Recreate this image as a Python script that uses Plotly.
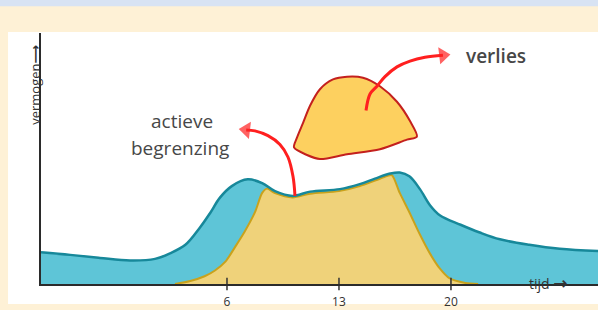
import plotly.graph_objects as go

# ---- data (time units, power units) ----
tick_vals = [6, 13, 20]
tick_text = ["6", "13", "20"]

blue_t = [-5.625, -3.8, -1.94, -0.06, 1.5, 2.44, 3.4, 4.3, 4.94, 5.56, 6.3, 7.3, 8.2, 9.0, 10.1,
          11.2, 13.06, 14.3, 15.25, 16.2, 16.8, 17.4, 18.06, 18.7, 19.3, 20.6, 21.8, 23.06, 24.9, 26.8, 29.2]
blue_y = [12.6, 11.6, 10.4, 9.4, 10.0, 12.2, 15.6, 22.4, 28.2, 34.4, 39.0, 41.7, 40.2, 37.0, 35.1,
          36.8, 37.8, 39.8, 42.0, 44.0, 44.4, 42.9, 37.8, 31.3, 27.4, 23.6, 20.5, 17.8, 15.6, 14.0, 13.1]

yellow_t = [2.75, 3.7, 4.6, 5.25, 5.9, 6.5, 7.1, 7.75, 8.2, 8.5, 9.0, 10.1, 11.2, 13.0, 14.3, 15.25,
            16.0, 16.3, 16.8, 17.4, 18.06, 18.7, 19.3, 19.9, 20.9, 21.7]
yellow_y = [0.0, 1.2, 3.1, 5.4, 8.9, 14.7, 20.8, 28.6, 36.3, 38.0, 36.2, 34.5, 36.0, 37.0, 39.0, 41.2,
            43.0, 43.4, 36.3, 28.6, 19.7, 12.0, 6.2, 2.3, 0.4, 0.0]

loss_t = [10.19, 10.375, 10.75, 11.19, 11.81, 12.625, 13.5, 14.5, 15.56, 16.625, 17.44, 17.875,
          17.25, 15.56, 13.5, 11.81, 11.0, 10.19]
loss_y = [54.4, 58.3, 64.1, 71.0, 77.6, 81.5, 82.6, 82.2, 78.8, 72.6, 64.9, 58.7,
          57.5, 53.7, 51.7, 49.8, 51.4, 54.4]

arrow_loss_t = [14.69, 14.94, 15.375, 15.875, 16.625, 17.44, 18.375, 19.5]
arrow_loss_y = [69.1, 75.7, 78.8, 82.6, 86.5, 88.8, 90.3, 91.1]

arrow_lim_t = [10.25, 10.125, 9.81, 9.31, 8.56, 7.75, 7.2]
arrow_lim_y = [35.1, 42.9, 50.6, 55.6, 59.1, 61.0, 61.4]

BLUE_FILL = "#5ec5d7"
BLUE_LINE = "#17889a"
YEL_FILL = "#efd27a"
YEL_LINE = "#c9a21c"
LOSS_FILL = "#fdd05f"
LOSS_LINE = "#c4201d"
RED = "#ff1f1f"
TXT = "#474747"
ARROW_X = '<span style="font-family:DejaVu Sans;font-size:17px;font-weight:bold">→</span>'
ARROW_Y = '<span style="font-family:DejaVu Sans"><b>⟶</b></span>'

fig = go.Figure()

fig.add_trace(go.Scatter(x=blue_t, y=blue_y, mode="lines", fill="tozeroy",
                         fillcolor=BLUE_FILL, line=dict(color="rgba(0,0,0,0)", shape="spline", smoothing=1.0),
                         hoverinfo="skip"))
fig.add_trace(go.Scatter(x=yellow_t, y=yellow_y, mode="lines", fill="tozeroy",
                         fillcolor=YEL_FILL, line=dict(color=YEL_LINE, width=2, shape="spline", smoothing=0.8),
                         hoverinfo="skip"))
fig.add_trace(go.Scatter(x=blue_t, y=blue_y, mode="lines",
                         line=dict(color=BLUE_LINE, width=2.5, shape="spline", smoothing=1.0),
                         hoverinfo="skip"))
fig.add_trace(go.Scatter(x=loss_t, y=loss_y, mode="lines", fill="toself",
                         fillcolor=LOSS_FILL, line=dict(color=LOSS_LINE, width=2, shape="spline", smoothing=0.8),
                         hoverinfo="skip"))

for tt, yy in [(arrow_loss_t, arrow_loss_y), (arrow_lim_t, arrow_lim_y)]:
    fig.add_trace(go.Scatter(x=tt, y=yy, mode="lines", line=dict(color=RED, width=3, shape="spline"),
                             hoverinfo="skip"))
    fig.add_trace(go.Scatter(x=[tt[-2], tt[-1]], y=[yy[-2], yy[-1]], mode="markers",
                             marker=dict(symbol="triangle-up", angleref="previous", size=[0, 15],
                                         color=RED, line=dict(width=0)),
                             hoverinfo="skip", cliponaxis=False))

# tick marks crossing the axis
fig.add_trace(go.Scatter(x=tick_vals, y=[0] * len(tick_vals), mode="markers",
                         marker=dict(symbol="line-ns-open", size=9, color="#333333",
                                     line=dict(color="#333333", width=1.5)),
                         hoverinfo="skip", cliponaxis=False))

fig.update_layout(
    width=598, height=310,
    margin=dict(l=41, r=0, t=33, b=19),
    paper_bgcolor="#fef1d6",
    plot_bgcolor="rgba(0,0,0,0)",
    showlegend=False,
    font=dict(family="Open Sans", color=TXT),
    xaxis=dict(range=[-5.625, 29.19], showgrid=False, zeroline=False, showline=True,
               linecolor="#2b2b2b", linewidth=2, tickmode="array", tickvals=tick_vals,
               ticktext=tick_text, ticks="", ticklabelstandoff=6,
               tickfont=dict(size=12, color="#333333"), fixedrange=True),
    yaxis=dict(range=[0, 100], showgrid=False, zeroline=False, showline=True,
               linecolor="#2b2b2b", linewidth=2, showticklabels=False, ticks="", fixedrange=True),
    shapes=[
        dict(type="rect", xref="paper", yref="paper", x0=-0.0592, x1=1.01, y0=-0.08, y1=1.004,
             fillcolor="white", line=dict(width=0), layer="below"),
        dict(type="rect", xref="paper", yref="paper", x0=-0.08, x1=1.01, y0=1.107, y1=1.2,
             fillcolor="#d8e3f3", line=dict(width=0), layer="below"),
    ],
    annotations=[
        dict(text="actieve", x=3.19, y=65.0, xref="x", yref="y", showarrow=False,
             font=dict(size=19, color=TXT)),
        dict(text="begrenzing", x=3.06, y=54.3, xref="x", yref="y", showarrow=False,
             font=dict(size=19, color=TXT)),
        dict(text="verlies", x=22.8, y=90.7, xref="x", yref="y", showarrow=False,
             font=dict(size=19, color=TXT, weight=600)),
        dict(text="tijd " + ARROW_X, x=0.95, y=-0.043, xref="paper", yref="paper", showarrow=False,
             font=dict(size=14, color="#333333")),
        dict(text="vermogen" + ARROW_Y, x=-0.031, y=0.96, xref="paper", yref="paper", showarrow=False,
             textangle=-90, font=dict(size=13, color="#333333")),
    ],
)

fig.write_html("out.html", config={"displayModeBar": False},
               post_script="document.body.style.margin='0';")
